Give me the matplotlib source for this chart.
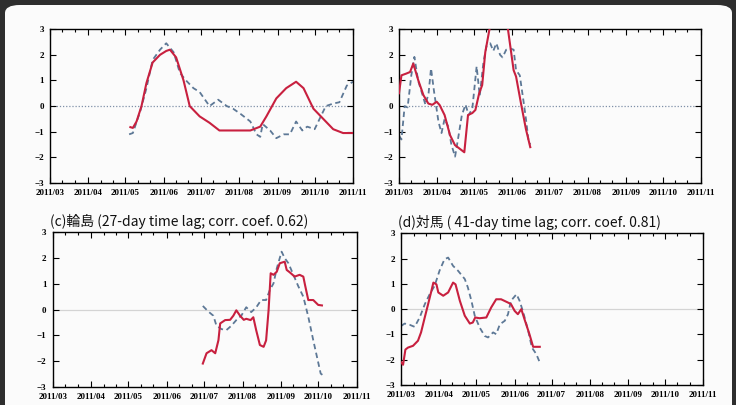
import datetime as dt
import matplotlib
matplotlib.use("Agg")
import matplotlib.pyplot as plt
import matplotlib.dates as mdates
from matplotlib.patches import FancyBboxPatch

# 日数は 2011/03/01 からの経過日数
start = mdates.date2num(dt.datetime(2011, 3, 1))

# (a)
a_red_day = [65, 67, 70, 74, 78, 83, 89, 94, 97, 102, 108, 113, 121, 129, 137, 148, 162, 170,
             175, 183, 191, 199, 205, 213, 221, 229, 237, 245]
a_red_val = [-0.82, -0.85, -0.6, 0.0, 0.9, 1.7, 2.0, 2.15, 2.2, 1.9, 1.0, 0.0, -0.4, -0.65,
             -0.95, -0.95, -0.95, -0.8, -0.4, 0.3, 0.7, 0.95, 0.7, -0.1, -0.5, -0.9, -1.05, -1.05]
a_blue_day = [64, 67, 73, 78, 83, 89, 94, 100, 105, 110, 116, 121, 129, 136, 143, 148, 154, 162,
              167, 170, 172, 178, 183, 189, 194, 199, 204, 208, 214, 218, 223, 229, 234, 240, 245]
a_blue_val = [-1.1, -1.05, -0.2, 0.7, 1.8, 2.2, 2.45, 2.1, 1.3, 1.0, 0.7, 0.55, 0.0, 0.25, 0.0,
              -0.1, -0.3, -0.6, -1.1, -1.2, -0.7, -0.95, -1.25, -1.1, -1.1, -0.6, -0.95, -0.8,
              -0.9, -0.5, 0.0, 0.1, 0.15, 0.8, 0.95]

# (b)
b_red_day = [0, 2, 6, 9, 11.6, 15.7, 19.8, 23.8, 27, 30.6, 33, 37, 41.4, 45.4, 49.5, 53, 56,
             59.5, 62, 65, 67.5, 70, 74, 81, 88.4, 93, 95, 99, 103, 106.5]
b_red_val = [0.5, 1.2, 1.27, 1.33, 1.66, 1.0, 0.43, 0.1, 0.05, 0.17, 0.04, -0.35, -1.13, -1.52,
             -1.67, -1.8, -0.35, -0.27, -0.15, 0.49, 0.82, 2.1, 3.15, 3.6, 3.0, 1.4, 1.15, 0.1,
             -0.9, -1.6]
b_blue_day = [0, 2, 4.6, 7, 10, 12.5, 15.5, 19, 21.5, 24, 26, 28.5, 32, 34.5, 37, 40, 42.5, 45.5,
              48, 51, 54, 56.5, 59.5, 63, 65.5, 68.5, 71, 74, 76.5, 79, 82, 84, 87, 90, 93, 95,
              98, 101, 103, 105, 106.5]
b_blue_val = [-1.15, -1.3, 0.0, -0.05, 1.2, 1.92, 1.0, 0.45, 0.05, 0.5, 1.47, 0.55, -0.6, -1.05,
              -0.5, -0.8, -1.5, -1.97, -1.25, -0.35, 0.06, -0.35, -0.1, 1.55, 0.4, 1.7, 2.35,
              2.45, 2.15, 2.45, 2.0, 1.9, 2.2, 2.25, 2.2, 1.4, 1.2, 0.2, -0.5, -1.3, -1.5]

# (c)
c_red_day = [121, 124, 128, 131, 133.6, 135, 139, 143, 145.6, 148, 151, 154, 156, 159.5, 161.7,
             164, 167, 170, 172, 174, 175.7, 178, 180.6, 183, 187, 188.6, 191, 195, 199, 202,
             203.4, 206, 210, 214, 217]
c_red_val = [-2.1, -1.7, -1.58, -1.7, -1.19, -0.54, -0.41, -0.4, -0.24, -0.03, -0.24, -0.4,
             -0.36, -0.41, -0.3, -0.8, -1.38, -1.45, -1.2, -0.03, 1.41, 1.35, 1.47, 1.8, 1.86,
             1.54, 1.45, 1.28, 1.35, 1.28, 0.95, 0.37, 0.37, 0.18, 0.16]
c_blue_day = [121, 125.5, 129.5, 132, 136, 140, 144, 148, 152, 156, 160, 164, 168, 172, 175, 178,
              180.6, 184.5, 187, 190, 194, 198, 202, 206, 210, 213, 216, 218]
c_blue_val = [0.14, -0.08, -0.24, -0.63, -0.76, -0.8, -0.63, -0.41, -0.24, 0.09, -0.1, 0.08,
              0.37, 0.37, 0.76, 1.02, 1.6, 2.25, 2.0, 1.8, 1.35, 0.9, 0.5, -0.28, -1.19, -1.84,
              -2.49, -2.56]

# (d)
d_red_day = [0, 1.4, 3.3, 5.4, 9.5, 13.5, 16, 19, 21.7, 24.4, 26, 28.5, 30, 34, 38, 42, 44, 47.5,
             51.5, 55.6, 58, 60, 63.5, 69, 73, 77, 81, 86.6, 89, 92, 94.6, 97.4, 100, 104, 107,
             112.4]
d_red_val = [-2.11, -2.2, -1.6, -1.52, -1.45, -1.25, -0.92, -0.33, 0.19, 0.72, 1.05, 0.98, 0.66,
             0.53, 0.66, 1.05, 0.98, 0.33, -0.26, -0.57, -0.53, -0.33, -0.36, -0.33, 0.07, 0.39,
             0.39, 0.26, 0.2, -0.07, -0.2, 0.0, -0.4, -0.99, -1.49, -1.49]
d_blue_day = [0, 2.7, 6.8, 10.8, 14.9, 19, 23, 27, 31, 35, 38, 42, 46, 51.5, 54, 56.9, 59.6, 63.6,
              67.7, 70.4, 74.5, 77, 80, 84, 86.6, 89, 93.5, 96, 99, 103, 106, 109.6, 112.4]
d_blue_val = [-0.66, -0.57, -0.62, -0.7, -0.33, 0.19, 0.59, 0.92, 1.52, 1.97, 2.04, 1.71, 1.52,
              1.19, 0.86, 0.33, -0.26, -0.73, -1.06, -1.12, -0.92, -0.99, -0.6, -0.46, -0.2, 0.33,
              0.59, 0.33, -0.13, -0.86, -1.52, -1.78, -2.11]

titles = ["", "",
          "(c)輪島 (27-day time lag; corr. coef. 0.62)",
          "(d)対馬 ( 41-day time lag; corr. coef. 0.81)"]

panels = [
    (a_red_day, a_red_val, a_blue_day, a_blue_val),
    (b_red_day, b_red_val, b_blue_day, b_blue_val),
    (c_red_day, c_red_val, c_blue_day, c_blue_val),
    (d_red_day, d_red_val, d_blue_day, d_blue_val),
]

# 軸の位置 [left, bottom, width, height]
rects = [
    [0.0679, 0.548, 0.4117, 0.380],
    [0.5421, 0.548, 0.4103, 0.380],
    [0.0716, 0.0452, 0.4130, 0.381],
    [0.5453, 0.0494, 0.4100, 0.3746],
]

red = "#c8203f"
blue = "#5d7896"

fig = plt.figure(figsize=(7.36, 4.05), dpi=100)
fig.patch.set_facecolor("#2e2e2e")

# 白いカード
card = FancyBboxPatch((5 / 736, -0.05), 727 / 736, 1.05 - 5 / 405,
                      boxstyle="round,pad=0,rounding_size=0.02",
                      transform=fig.transFigure, facecolor="#fbfbfb",
                      edgecolor="none", zorder=-10)
fig.patches.append(card)

month_ticks = [mdates.date2num(dt.datetime(2011, m, 1)) for m in range(3, 12)]
minor_ticks = [mdates.date2num(dt.datetime(2011, m, d)) for m in range(3, 11) for d in (11, 21)]

for i, (rd, rv, bd, bv) in enumerate(panels):
    ax = fig.add_axes(rects[i])
    ax.set_facecolor("none")
    if i < 2:
        ax.axhline(0, color="#7f90a8", lw=0.9, ls=(0, (1, 1.5)), zorder=1)
    else:
        ax.axhline(0, color="#d4d4d4", lw=0.9, zorder=1)
    ax.plot([start + d for d in bd], bv, color=blue, lw=1.3, ls=(0, (3, 2)), zorder=2)
    ax.plot([start + d for d in rd], rv, color=red, lw=1.5, zorder=3)

    ax.set_xlim(month_ticks[0], month_ticks[-1])
    ax.set_ylim(-3, 3)
    ax.set_xticks(month_ticks)
    ax.set_xticks(minor_ticks, minor=True)
    ax.set_xticklabels([f"2011/{m:02d}" for m in range(3, 12)])
    ax.set_yticks(range(-3, 4))
    ax.tick_params(which="both", direction="in", top=True, right=True, width=0.8,
                   labelsize=6.5, pad=4.5)
    ax.tick_params(which="major", length=4)
    ax.tick_params(which="minor", length=2)
    for lab in ax.get_xticklabels() + ax.get_yticklabels():
        lab.set_fontfamily("Liberation Serif")
        lab.set_fontweight("bold")
    for s in ax.spines.values():
        s.set_linewidth(1.0)
    if titles[i]:
        ax.text(-0.01, 1.02, titles[i], transform=ax.transAxes, ha="left", va="bottom",
                fontsize=10, family=["Noto Sans CJK JP", "DejaVu Sans"], color="#111111")

fig.savefig("out.png", dpi=100, facecolor=fig.get_facecolor())
